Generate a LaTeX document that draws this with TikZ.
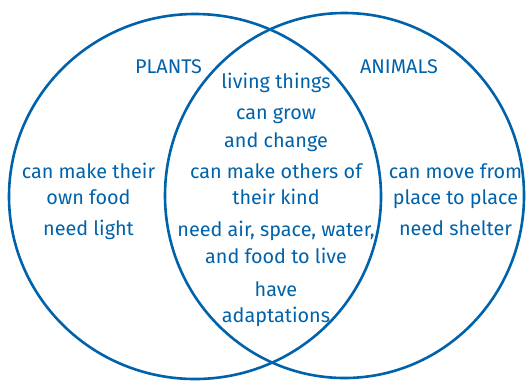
\documentclass[tikz,border=0pt]{standalone}
\usepackage{fontspec}
\setmainfont{Fira Sans}
\definecolor{vblue}{RGB}{0,98,170}
\begin{document}
\begin{tikzpicture}[x=1pt,y=-1pt,
  ring/.style={draw=vblue,line width=2.6pt},
  txt/.style={text=vblue,anchor=base,inner sep=0pt,font=\fontsize{19.8}{23}\selectfont}]
\useasboundingbox (0,0) rectangle (526,381);
\draw[ring] (195,196.5) ellipse [x radius=186, y radius=182.5];
\draw[ring] (344.5,195.5) ellipse [x radius=179.5, y radius=182.5];
% headings
\node[txt] (plants) at (168.5,73) {PLANTS};
\node[txt] (animals) at (399,73) {ANIMALS};
% left
\node[txt] (l1) at (88.5,178) {can make their};
\node[txt] (l2) at (88.5,204) {own food};
\node[txt] (l3) at (88.5,235) {need light};
% middle
\node[txt] (m1) at (276,88) {living things};
\node[txt] (m2) at (276,119) {can grow};
\node[txt] (m3) at (276,147) {and change};
\node[txt] (m4) at (276,178) {can make others of};
\node[txt] (m5) at (276,204) {their kind};
\node[txt] (m6) at (276,236) {need air, space, water,};
\node[txt] (m7) at (276,263) {and food to live};
\node[txt] (m8) at (276,296) {have};
\node[txt] (m9) at (276,322) {adaptations};
% right
\node[txt] (r1) at (455.5,178) {can move from};
\node[txt] (r2) at (455.5,204) {place to place};
\node[txt] (r3) at (455.5,235) {need shelter};
\end{tikzpicture}
\end{document}
